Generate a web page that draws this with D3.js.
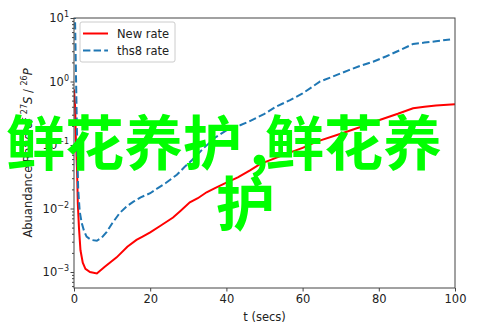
<!DOCTYPE html>
<html><head><meta charset="utf-8">
<script src="https://cdn.jsdelivr.net/npm/d3@7"></script>
<style>body{margin:0;background:#fff;} svg{display:block;}</style>
</head><body>
<script>
const tNew = [0,0.3,0.5,0.8,1.0,1.3,1.7,2.3,3,4.2,6,8,11.2,14,16.4,18,20,22.6,26,28,30.4,32.5,34.8,37,40,43,46.2,48.8,55,60,63.7,70,75,80,85,89,92,95,100];
const newRate = [0.75,0.4,0.12,0.04,0.012,0.005,0.0022,0.0014,0.00112,0.001,0.00095,0.0012,0.0017,0.0025,0.0032,0.0036,0.0042,0.0053,0.0072,0.0092,0.0125,0.0145,0.018,0.021,0.0255,0.031,0.040,0.050,0.070,0.090,0.113,0.15,0.19,0.245,0.31,0.38,0.40,0.42,0.44];
const tThs = [0,0.3,0.5,0.7,0.9,1.1,1.5,2,2.6,3.3,4.5,6,7.3,8.6,10,12,14,15.6,17.5,20,22,24,27,29,31,34,37,41,43.6,46,50,53,56.7,60,64.6,68,72,75,78.5,82,86,89,92,95,98.7];
const thsRate = [40,8,1.5,0.3,0.06,0.02,0.009,0.006,0.0045,0.0036,0.0032,0.0031,0.0035,0.0043,0.0058,0.0085,0.011,0.0128,0.015,0.0174,0.021,0.025,0.034,0.045,0.058,0.089,0.13,0.186,0.205,0.235,0.31,0.40,0.51,0.65,1.0,1.2,1.5,1.75,2.05,2.5,3.2,3.9,4.1,4.3,4.6];
const xTicks = [0,20,40,60,80,100];
const yTickExp = [-3,-2,-1,0,1];
const seriesNames = ["New rate","ths8 rate"];
const overlayParts = ["鲜花养护"," ,","鲜花养","护"];

const W=493,H=329, L=74,R=455,T=18,B=288;
const svg=d3.select("body").append("svg").attr("width",W).attr("height",H)
  .style("font-family","'DejaVu Sans',sans-serif");
const x=d3.scaleLinear().domain([0,100]).range([L,R]);
const y=d3.scaleLog().domain([5.6e-4,10]).range([B,T]);

svg.append("defs").append("clipPath").attr("id","clip")
  .append("rect").attr("x",L).attr("y",T).attr("width",R-L).attr("height",B-T);

const line=d3.line().x(d=>x(d[0])).y(d=>y(d[1]));
const g=svg.append("g").attr("clip-path","url(#clip)");
g.append("path").datum(tNew.map((t,i)=>[t,newRate[i]])).attr("d",line)
  .attr("fill","none").attr("stroke","#ff0000").attr("stroke-width",2);
g.append("path").datum(tThs.map((t,i)=>[t,thsRate[i]])).attr("d",line)
  .attr("fill","none").attr("stroke","#1f77b4").attr("stroke-width",2)
  .attr("stroke-dasharray","7.4,3.2");

// frame
svg.append("rect").attr("x",L).attr("y",T).attr("width",R-L).attr("height",B-T)
  .attr("fill","none").attr("stroke","#444").attr("stroke-width",1);

// x axis
const xa=svg.append("g").attr("transform",`translate(0,${B})`)
  .call(d3.axisBottom(x).tickValues(xTicks).tickSize(3.5).tickPadding(3).tickFormat(d3.format("d")));
xa.select(".domain").remove();
xa.selectAll("line").attr("stroke","#444");
xa.selectAll("text").attr("font-size","11.5px").attr("fill","#222").attr("font-family","'DejaVu Sans',sans-serif");

// y axis major
const ya=svg.append("g").attr("transform",`translate(${L},0)`)
  .call(d3.axisLeft(y).tickValues(yTickExp.map(e=>Math.pow(10,e))).tickSize(3.5).tickFormat(""));
ya.select(".domain").remove();
ya.selectAll("line").attr("stroke","#444");
// minor ticks
const minors=[];
for(let e=-4;e<=1;e++) for(let m=2;m<=9;m++){const v=m*Math.pow(10,e); if(v>=5.6e-4&&v<=10) minors.push(v);}
const ym=svg.append("g").attr("transform",`translate(${L},0)`)
  .call(d3.axisLeft(y).tickValues(minors).tickSize(2).tickFormat(""));
ym.select(".domain").remove();
ym.selectAll("line").attr("stroke","#444");
// y tick labels
yTickExp.forEach(e=>{
  const t=svg.append("text").attr("x",69).attr("y",y(Math.pow(10,e))+4)
    .attr("text-anchor","end").attr("font-size","11.5px").attr("fill","#222");
  t.append("tspan").text("10");
  t.append("tspan").attr("dy",-5).attr("font-size","8px").text(e<0?"\u2212"+(-e):String(e));
});

// labels
svg.append("text").attr("x",(L+R)/2).attr("y",321).attr("text-anchor","middle")
  .attr("font-size","11.5px").attr("fill","#222").text("t (secs)");
const yl=svg.append("text").attr("transform",`translate(32,${(T+B)/2}) rotate(-90)`)
  .attr("text-anchor","middle").attr("font-size","11.5px").attr("fill","#222");
yl.append("tspan").text("Abuandance Ratio of ");
yl.append("tspan").attr("dy",-5).attr("font-size","8px").text("27");
yl.append("tspan").attr("dy",5).attr("font-style","italic").text("S");
yl.append("tspan").text(" / ");
yl.append("tspan").attr("dy",-5).attr("font-size","8px").text("26");
yl.append("tspan").attr("dy",5).attr("font-style","italic").text("P");

// legend
const lg=svg.append("g");
lg.append("rect").attr("x",80).attr("y",22).attr("width",95).attr("height",40).attr("rx",2)
  .attr("fill","#fff").attr("fill-opacity",0.8).attr("stroke","#ccc");
const styles=[{c:"#ff0000",d:null},{c:"#1f77b4",d:"7.4,3.2"}];
seriesNames.forEach((n,i)=>{
  const yy=33.5+i*17;
  const l=lg.append("line").attr("x1",83).attr("x2",108).attr("y1",yy).attr("y2",yy)
    .attr("stroke",styles[i].c).attr("stroke-width",2);
  if(styles[i].d) l.attr("stroke-dasharray",styles[i].d);
  lg.append("text").attr("x",117).attr("y",yy+4).attr("font-size","11.5px").attr("fill","#222").text(n);
});

// overlay text
const ov=svg.append("g").attr("font-family","'Noto Sans CJK SC',sans-serif")
  .attr("font-size","59px").attr("font-weight","bold").attr("fill","#00ff00");
const t1=ov.append("text").attr("y",165);
t1.append("tspan").attr("x",6).text(overlayParts[0]);
t1.append("tspan").attr("x",236).text(overlayParts[1]);
t1.append("tspan").attr("x",265).text(overlayParts[2]);
ov.append("text").attr("x",216).attr("y",226).text(overlayParts[3]);
</script>
</body></html>
